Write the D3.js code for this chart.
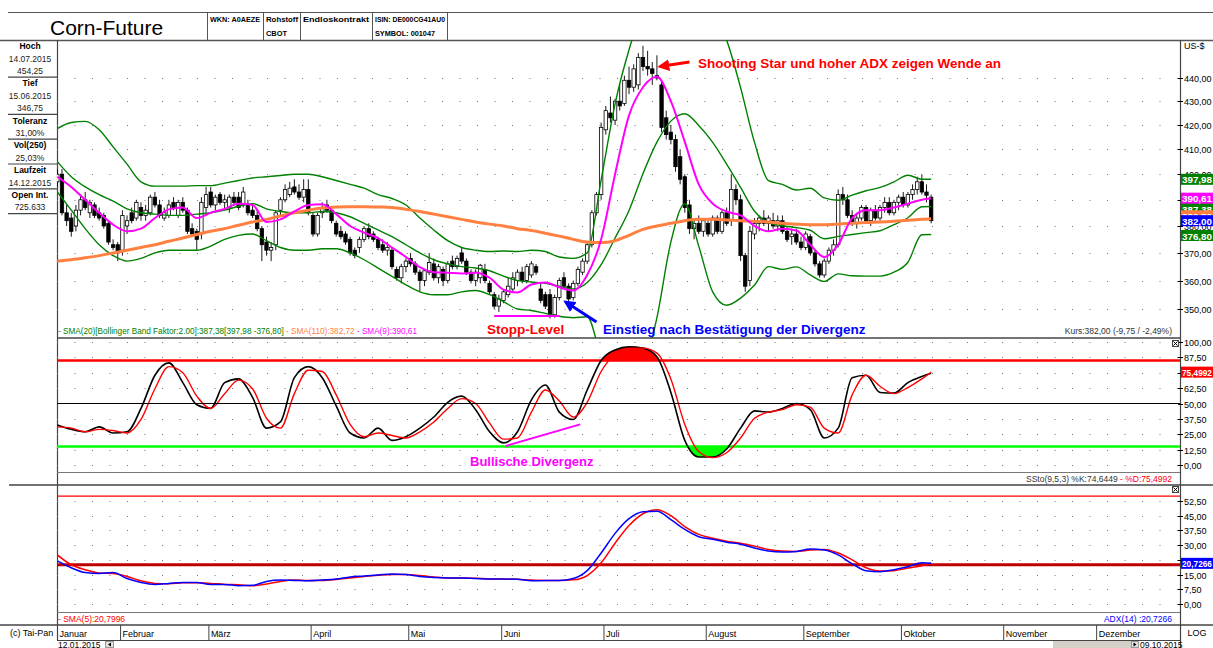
<!DOCTYPE html>
<meta charset="utf-8">
<title>Corn-Future</title>
<style>
body { margin: 0; background: #fff; }
svg { display: block; font-family: "Liberation Sans", Arial, sans-serif; }
</style>
<svg width="1213" height="648"></svg>
<script src="https://d3js.org/d3.v7.min.js"></script>
<script>
// ---- data ----
const holidays = ["2015-01-19","2015-02-16","2015-04-03","2015-05-25","2015-07-03","2015-09-07","2015-11-26","2015-12-25"];
const monthNames = ["Januar","Februar","März","April","Mai","Juni","Juli","August","September","Oktober","November","Dezember"];

// daily candles, 12.01.2015 .. 09.10.2015
const opens = [397,400,385,383,380,386,390,385,388,385,384,381,373,373,371,380,385,383,387,384,385,391,388,383,384,389,384,389,386,379,378,377,387,393,388,392,389,387,391,391,388,388,386,384,379,374,371,373,386,390,392,395,393,391,394,384,377,385,388,386,381,378,377,375,371,372,375,379,377,375,373,371,371,364,361,365,368,366,363,360,363,366,361,364,360,367,365,370,367,363,360,361,364,359,355,351,353,355,357,360,363,360,362,365,357,355,355,348,354,361,358,354,359,363,367,373,385,392,418,425,422,430,429,439,436,437,449,445,444,441,437,423,417,414,407,399,388,379,381,378,381,377,383,378,385,382,394,390,369,360,377,381,383,381,382,380,382,378,376,377,374,372,376,370,366,362,367,371,373,392,390,384,381,383,387,382,386,383,387,389,385,389,391,388,392,394,397,393,391];
const highs = [402,402,388,385,388,392,393,390,389,387,385,382,375,374,386,384,387,390,389,388,392,393,390,387,390,391,390,391,387,381,379,391,395,395,392,393,392,392,393,393,395,390,388,386,380,376,374,386,391,396,397,398,396,398,398,385,385,389,390,387,382,380,378,376,372,376,380,381,378,376,375,374,372,365,366,368,370,367,364,364,370,368,366,365,367,369,369,372,368,364,364,366,366,360,356,355,357,361,363,364,365,366,367,366,359,356,357,355,361,363,359,360,365,368,374,386,393,421,428,432,431,437,441,445,446,451,454.25,452,447,450,439,426,420,416,410,400,390,383,384,383,382,384,384,386,387,400,396,392,370,380,383,384,386,384,385,384,384,380,379,379,376,378,377,371,367,368,372,375,394,395,392,386,385,388,388,387,388,388,391,391,390,392,393,393,396,399,400,396,392];
const lows = [395,384,380,376,378,384,386,383,383,382,379,373,371,367,369,377,381,382,382,382,384,387,383,382,383,386,383,385,377,376,371,375,385,387,386,388,386,385,388,386,387,384,383,378,367,369,367,371,384,389,391,392,390,389,384,376,376,383,385,381,376,375,373,369,368,370,374,375,374,371,370,369,364,360,359,363,365,362,356,358,362,360,359,358,359,364,364,366,362,359,358,359,359,355,350,349,352,354,356,358,359,359,361,362,352,350,346.75,347,353,357,352,353,358,362,366,372,384,390,416,421,420,426,428,433,434,435,443,441,437,439,417,414,412,401,396,385,377,375,377,376,376,376,377,377,380,380,388,367,356,358,375,378,380,378,379,378,377,374,373,373,371,371,369,365,361,361,366,369,372,388,383,380,379,382,381,380,382,382,385,384,384,386,387,387,390,392,392,389,381];
const closes = [400,385,382,378,386,390,387,389,384,383,380,374,372,370,384,382,382,389,384,386,391,388,384,385,388,387,389,386,378,377,375,389,392,388,391,389,390,391,389,387,393,385,384,379,373,371,372,385,390,394,394.5,393,391,394,385,377,384,387,386,382,377,376,374,370,369,375,379,376,375,372,371,372,365,361,365,367,366,363,360,363.5,366.5,361,365,360,366,365,368,367,363,360,363,365.5,360,356,351,353.5,356,358,361,363,360,365,366,363,353,351,348,354,360,358,353.5,359,364,367,373,385,392,419,426,423,430,428,439,436,444,449,445,444,442,440,419,416,414,403,398,387,379,381,378,382,377,383,378,385,381,394,390,369,358,378,381,383,381,383,380,382,378,375,377,374,372,377,370,366,362,367,371,373,392,390,384,381,383,387,382,386,383,387,389,385,389,391,388,392,394,397,393,391.75,382];

// indicator lines, read every third trading day
const sampleDays = [0,3,6,9,12,15,18,21,24,27,30,33,36,39,42,45,48,51,54,57,60,63,66,69,72,75,78,81,84,87,90,93,96,99,102,105,108,111,114,117,120,123,126,129,132,135,138,141,144,147,150,153,156,159,162,165,168,171,174,177,180,183,186,188];
const bbUpper = [418.5,421,421.5,418,411,404,397,395.3,395.3,395.3,395.5,395.5,396.5,397.5,398.5,399,399.5,400,400,399,397.5,396,394.5,392,390.5,388,383,378.5,374.5,372,371,370.5,370.7,370.5,371,370.5,368.5,368,370,397.8,428.9,452.5,471,478.7,469,461,467,469.6,456.8,435.8,412.8,397.5,396,393.8,394.5,390.7,389.8,391.8,393.5,394.8,397,399.6,398,397.98];
const bbMid = [405,399,395,392,389.5,386.5,385,384.5,384,384,384.5,385,386,387.5,388.5,386.5,385.5,385,385,385.5,385,383.5,381,378.5,376,373,370,367.5,366,365,364.5,363.5,361.6,360,359.5,359,358,357,359.3,365.7,375.5,385.9,400.2,412.9,421.6,424.7,419.8,412.8,404,394.8,385.6,381.3,380.1,379.4,378.4,375.2,376.1,376.8,377.5,378.2,380.5,383.1,387.3,387.38];
const bbLower = [393,386,379,373,369,367,368,370,371,371,371,372.5,375,376.5,377,374.5,372,371,371,371.5,371.5,370,367.5,364.5,361.5,358.5,356,355,355,356,356.5,355,352.6,350,349.5,348.5,347.5,347,347.3,333.6,322,319,329,347,374,388.5,372.5,356,351.3,353.8,358.4,365,364,364.9,362,359.7,362.4,361.7,361.6,361.6,363,366.6,376.7,376.8];
const sma110 = [367,367.5,368.2,369,370,371,372,373,374.3,375.5,376.8,378,379,380.3,381.5,382.5,383.8,385,386,386.8,387.2,387.3,387.3,387.2,387,386.3,385.5,384.5,383.5,382.5,381.5,380.7,380,379,378.3,377.3,376.2,375,374,373.8,374.5,376.5,378.7,380,381,382,382.5,382.5,382.3,382,381.8,381.5,381,380.7,380.5,380.5,380.7,381,381.3,381.5,381.8,382.2,382.5,382.72];
const sma9 = [399,395,390,385,380.5,378,379,383,386.3,387,383,385,386.5,388.5,388,381.5,382.5,385.5,388,388.3,384.5,380,377.5,375.5,372,368.5,364.8,363,362.8,362.5,362.8,361,356.8,355.8,358.6,359.3,357.6,356.5,362,375,400,424,436,440.5,430,413,396,388.5,385.5,384,380,378,379,378.3,373,368.5,373,383,386,386,387,388.5,390,390.61];
const stochK = [32.5,29,27,31,26,27,46,73,83,67,49,46,67,70,55,30,35,71,80,71,48,26,22,30,20,23,30,39,51,56,45,27,18,27,53,65,43,37,61,85,93.5,96,95,88,59,20,6.5,6.5,13,30,44,43,46,50,45,22,30,71,73,59,58.5,67,72,74.64];
const stochD = [31,30,27,29,28,26,37,62,80,75,56,46,58,69,62,38,30,58,77,76,57,33,23,26,24,22,27,35,46,54,50,34,21,22,43,61,52,39,51,76,90,95,95,91,70,33,11,6,10,22,38,43,45,49,47,30,26,57,73,64,58,63,70,75.5];
const adx = [22,18.5,16,15.5,16,13,11,10,10.5,11,11,10,10,9.3,9.5,11.5,12.2,12,11.8,12.2,12.7,13.8,14.3,14.8,15.3,15,14,13.5,13.3,13.3,13,12.7,12.7,12.6,11.8,12,12,13,17,26,36,43.5,47,47.3,43,38,34.3,33,31.5,30.5,28.5,27,26.5,26.8,28,27.5,25,20.5,17,16.5,17.5,19,21,20.73];
const adxSma5 = [25,20,17.5,15.8,15.5,14,11.8,10.5,10.3,10.8,10.8,10.5,10,9.8,9.3,10.2,11.5,12.2,12,12,12.5,13.3,14,14.6,15,15,14.5,13.8,13.3,13.3,13.1,12.8,12.7,12.6,12.2,12,12,12.3,14.5,21,31,40,46,48,45,39.5,35.5,33.5,32,31,29.5,27.8,27,26.8,27.5,27.8,26,22.5,18.5,16.8,17,18.3,19.5,20.8];

const priceTicks = [350,360,370,380,390,400,410,420,430,440];
const stochTicks = [0,12.5,25,37.5,50,62.5,75,87.5,100];
const adxTicks = [0,7.5,15,22.5,30,37.5,45,52.5];
const infoLabels = ["Hoch","Tief","Toleranz","Vol(250)","Laufzeit","Open Int."];
const infoValues = [["14.07.2015","454,25"],["15.06.2015","346,75"],["31,00%"],["25,03%"],["14.12.2015"],["725.633"]];

// ---- layout ----
const L = 57, R = 1180;
const svg = d3.select("svg");
const fmt = v => d3.format(".2f")(v).replace(".", ",");
const iso = d3.timeFormat("%Y-%m-%d");

const days = [];
for (let d = new Date(2015, 0, 12); d <= new Date(2015, 11, 31); d.setDate(d.getDate() + 1)) {
  if (d.getDay() === 0 || d.getDay() === 6 || holidays.includes(iso(d))) continue;
  days.push(new Date(d));
}
const x = d3.scaleLinear().domain([0, days.length]).range([55, 55 + days.length * 4.648]);
const xc = i => x(i + 0.5);
const y = d3.scaleLog().domain([350, 440]).range([309, 78]);
const sy = d3.scaleLinear().domain([0, 100]).range([465, 342]);
const ay = d3.scaleLinear().domain([0, 52.5]).range([604, 501]);

const defs = svg.append("defs");
function clip(id, y0, y1) {
  defs.append("clipPath").attr("id", id).append("rect")
    .attr("x", L).attr("y", y0).attr("width", R - L).attr("height", y1 - y0);
}
clip("cMain", 40, 338); clip("cSto", 338, 472); clip("cAdx", 485, 613);
clip("cHi", 338, sy(85)); clip("cLo", sy(15), 472);
[["arRed","#ff0000"],["arBlue","#0000ff"]].forEach(([id, c]) => {
  defs.append("marker").attr("id", id).attr("viewBox", "0 0 10 10").attr("refX", 8).attr("refY", 5)
    .attr("markerWidth", 4).attr("markerHeight", 4).attr("orient", "auto")
    .append("path").attr("d", "M0,0L10,5L0,10z").attr("fill", c);
});

const hline = (x1, x2, yy, col, w) => svg.append("line").attr("x1", x1).attr("x2", x2)
  .attr("y1", yy).attr("y2", yy).attr("stroke", col).attr("stroke-width", w || 1);
const vline = (xx, y1, y2, col, w) => svg.append("line").attr("x1", xx).attr("x2", xx)
  .attr("y1", y1).attr("y2", y2).attr("stroke", col).attr("stroke-width", w || 1);
const txt = (g, xx, yy, s, size, opts = {}) => {
  const t = g.append("text").attr("x", xx).attr("y", yy)
    .attr("font-size", size).attr("fill", opts.fill || "#000")
    .attr("font-weight", opts.bold ? "bold" : null)
    .attr("text-anchor", opts.anchor || null).text(s);
  if (opts.len) t.attr("textLength", opts.len).attr("lengthAdjust", "spacingAndGlyphs");
  return t;
};

// header
hline(8, 1213, 12.5, "#555");
hline(0, 1213, 40.5, "#555", 1.5);
[207, 263, 300, 372, 447].forEach(xx => vline(xx + 0.5, 12, 40, "#555"));
txt(svg, 50, 35, "Corn-Future", 21);
txt(svg, 210, 22, "WKN: A0AEZE", 8, {bold: true, len: 50});
txt(svg, 266, 22, "Rohstoff", 8, {bold: true, len: 32});
txt(svg, 266, 36, "CBOT", 8, {bold: true, len: 21});
txt(svg, 303, 22, "Endloskontrakt", 8, {bold: true, len: 66});
txt(svg, 375, 22, "ISIN: DE000CG41AU0", 8, {bold: true, len: 70});
txt(svg, 375, 36, "SYMBOL: 001047", 8, {bold: true, len: 60});

// info panel
let yy = 40;
infoLabels.forEach((lab, k) => {
  txt(svg, 30, yy + 9.2, lab, 8.5, {bold: true, anchor: "middle"});
  yy += 12.4;
  infoValues[k].forEach(v => { txt(svg, 30, yy + 9.2, v, 8.5, {anchor: "middle", fill: "#222"}); yy += 12.4; });
  hline(8, L, yy, "#444", 1.2);
});

// frames
vline(L + 0.5, 40, 640, "#444", 1.2);
vline(R + 0.5, 40, 648, "#444", 1.2);
hline(L, R, 338, "#444", 1.5);
hline(L, R, 472.5, "#777");
hline(9, 1213, 485, "#444", 1.5);
hline(L, R, 612.5, "#777");
hline(0, 1213, 625, "#444", 1.5);
hline(L, R, 640.5, "#444");

// dotted grid and right axes
function axisPanel(scale, ticks, skip) {
  ticks.forEach(t => {
    const ty = Math.round(scale(t)) + 0.5;
    if (!skip.includes(t)) hline(L, R, ty, "#777").attr("stroke-dasharray", "1,16.5");
    hline(R - 2, R + 3, ty, "#000");
    txt(svg, R + 4, ty + 3.5, fmt(t), 9);
  });
}
axisPanel(y, priceTicks, []);
axisPanel(sy, stochTicks, [50]);
axisPanel(ay, adxTicks, []);
txt(svg, R + 4, 49, "US-$", 9);

// ---- main panel ----
const gMain = svg.append("g").attr("clip-path", "url(#cMain)");
const line = yS => d3.line().x((v, k) => xc(sampleDays[k])).y(v => yS(v)).curve(d3.curveMonotoneX);
const candles = gMain.append("g").selectAll("g").data(closes.map((c, i) => ({i, o: opens[i], h: highs[i], l: lows[i], c}))).join("g");
candles.append("line").attr("x1", d => xc(d.i)).attr("x2", d => xc(d.i))
  .attr("y1", d => y(d.h)).attr("y2", d => y(d.l)).attr("stroke", "#000").attr("stroke-width", 0.9);
candles.append("rect").attr("x", d => xc(d.i) - 1.7).attr("width", 3.4)
  .attr("y", d => y(Math.max(d.o, d.c))).attr("height", d => Math.max(1, Math.abs(y(d.o) - y(d.c))))
  .attr("fill", d => d.c >= d.o ? "#fff" : "#000").attr("stroke", "#000").attr("stroke-width", 0.8);
[bbUpper, bbMid, bbLower].forEach(s => gMain.append("path").attr("d", line(y)(s))
  .attr("fill", "none").attr("stroke", "#008000").attr("stroke-width", 1.4));
gMain.append("path").attr("d", line(y)(sma110)).attr("fill", "none").attr("stroke", "#ff8040").attr("stroke-width", 3);
gMain.append("path").attr("d", line(y)(sma9)).attr("fill", "none").attr("stroke", "#ff00ff").attr("stroke-width", 2);

// annotations
gMain.append("line").attr("x1", xc(94)).attr("x2", xc(108)).attr("y1", y(347.6)).attr("y2", y(347.6))
  .attr("stroke", "#ff00ff").attr("stroke-width", 2);
svg.append("line").attr("x1", xc(136)).attr("y1", y(447)).attr("x2", xc(129.6)).attr("y2", y(445))
  .attr("stroke", "#ff0000").attr("stroke-width", 3).attr("marker-end", "url(#arRed)");
svg.append("line").attr("x1", xc(116)).attr("y1", y(345.5)).attr("x2", xc(109.3)).attr("y2", y(352.5))
  .attr("stroke", "#0000ff").attr("stroke-width", 3).attr("marker-end", "url(#arBlue)");
txt(svg, 698, 68, "Shooting Star und hoher ADX zeigen Wende an", 13.5, {bold: true, fill: "#ff0000"});
txt(svg, 487, 334, "Stopp-Level", 13.5, {bold: true, fill: "#ff0000"});
txt(svg, 603, 334, "Einstieg nach Bestätigung der Divergenz", 13.5, {bold: true, fill: "#0000ff"});

const leg = svg.append("text").attr("x", 58).attr("y", 334).attr("font-size", 8.2);
leg.append("tspan").attr("fill", "#008000").text("- SMA(20)[Bollinger Band Faktor:2.00]:387,38[397,98 -376,80] ");
leg.append("tspan").attr("fill", "#ff8040").text("- SMA(110):382,72 ");
leg.append("tspan").attr("fill", "#ff00ff").text("- SMA(9):390,61");
txt(svg, 1172, 334, "Kurs:382,00 (-9,75 / -2,49%)", 8.5, {anchor: "end", fill: "#333"});

// last value boxes
function valueBox(v, scale, label, bg, dy) {
  const cy = scale(v) + (dy || 0);
  svg.append("rect").attr("x", R + 1).attr("y", cy - 5.5).attr("width", 34).attr("height", 11).attr("fill", bg);
  txt(svg, R + 2, cy + 4, label, 9, {bold: true, fill: "#fff", len: 30});
}
valueBox(397.98, y, "397,98", "#008000");
valueBox(387.38, y, "387,38", "#008000", 2);
valueBox(390.61, y, "390,61", "#ff00ff");
valueBox(382.72, y, "382,72", "#ff8040", -3);
valueBox(382.00, y, "382,00", "#0000ff");
valueBox(376.80, y, "376,80", "#008000", 1);

// ---- stochastic ----
const gSto = svg.append("g").attr("clip-path", "url(#cSto)");
const areaK = base => d3.area().x((v, k) => xc(sampleDays[k])).y0(sy(base)).y1(v => sy(v)).curve(d3.curveMonotoneX);
gSto.append("path").attr("clip-path", "url(#cHi)").attr("d", areaK(85)(stochK)).attr("fill", "#ff0000");
gSto.append("path").attr("clip-path", "url(#cLo)").attr("d", areaK(15)(stochK)).attr("fill", "#00ff00");
hline(L, R, sy(50), "#000");
gSto.append("line").attr("x1", L).attr("x2", R).attr("y1", sy(85)).attr("y2", sy(85)).attr("stroke", "#ff0000").attr("stroke-width", 2.5);
gSto.append("line").attr("x1", L).attr("x2", R).attr("y1", sy(15)).attr("y2", sy(15)).attr("stroke", "#00ff00").attr("stroke-width", 2.5);
gSto.append("path").attr("d", line(sy)(stochK)).attr("fill", "none").attr("stroke", "#000").attr("stroke-width", 1.6);
gSto.append("path").attr("d", line(sy)(stochD)).attr("fill", "none").attr("stroke", "#ff0000").attr("stroke-width", 1.4);
gSto.append("line").attr("x1", xc(96.5)).attr("y1", sy(15.5)).attr("x2", xc(112.5)).attr("y2", sy(33))
  .attr("stroke", "#ff00ff").attr("stroke-width", 2);
txt(svg, 470, 466, "Bullische Divergenz", 13, {bold: true, fill: "#ff00ff"});
const sleg = svg.append("text").attr("x", 1172).attr("y", 482).attr("font-size", 8.5).attr("text-anchor", "end");
sleg.append("tspan").attr("fill", "#333").text("SSto(9,5,3) %K:74,6449 ");
sleg.append("tspan").attr("fill", "#ff0000").text("- %D:75,4992");
valueBox(75.4992, sy, "75,4992", "#ff0000");

// ---- ADX ----
const gAdx = svg.append("g").attr("clip-path", "url(#cAdx)");
gAdx.append("line").attr("x1", L).attr("x2", R).attr("y1", ay(55)).attr("y2", ay(55)).attr("stroke", "#ff0000").attr("stroke-width", 1.2);
gAdx.append("line").attr("x1", L).attr("x2", R).attr("y1", ay(20)).attr("y2", ay(20)).attr("stroke", "#c00000").attr("stroke-width", 3);
gAdx.append("path").attr("d", line(ay)(adxSma5)).attr("fill", "none").attr("stroke", "#ff0000").attr("stroke-width", 1.5);
gAdx.append("path").attr("d", line(ay)(adx)).attr("fill", "none").attr("stroke", "#0000ff").attr("stroke-width", 1.5);
txt(svg, 58, 622, "- SMA(5):20,7996", 8.5, {fill: "#ff0000"});
txt(svg, 1172, 622, "ADX(14) :20,7266", 8.5, {anchor: "end", fill: "#0000ff"});
valueBox(20.7266, ay, "20,7266", "#0000ff");

// close boxes
[340, 486].forEach(by => {
  svg.append("rect").attr("x", 1172.5).attr("y", by + 0.5).attr("width", 6).attr("height", 6).attr("fill", "#fff").attr("stroke", "#444");
  svg.append("path").attr("d", `M1173.5,${by + 1.5}l4,4m0,-4l-4,4`).attr("stroke", "#000");
});

// ---- month row ----
txt(svg, 10, 636, "(c) Tai-Pan", 9);
monthNames.forEach((m, k) => {
  const idx = days.findIndex(d => d.getMonth() === k);
  const mx = Math.max(L, x(idx));
  if (mx >= R) return;
  vline(mx + 0.5, 625, 640, "#444");
  txt(svg, mx + 2.5, 637, m, 9);
});
txt(svg, 1197, 636, "LOG", 9, {anchor: "middle"});

// bottom row
txt(svg, 58, 647.5, d3.timeFormat("%d.%m.%Y")(days[0]), 8.5);
svg.append("rect").attr("x", 105.5).attr("y", 641.5).attr("width", 8).attr("height", 6).attr("fill", "#e0e0e0").attr("stroke", "#999");
svg.append("path").attr("d", "M111,642.5l-3,2l3,2z").attr("fill", "#000");
svg.append("rect").attr("x", 1053).attr("y", 641).attr("width", 78).attr("height", 7).attr("fill", "#d4d0c8");
svg.append("rect").attr("x", 1131.5).attr("y", 641.5).attr("width", 7).attr("height", 6).attr("fill", "#e0e0e0").attr("stroke", "#999");
svg.append("path").attr("d", "M1133.5,642.5l3,2l-3,2z").attr("fill", "#000");
txt(svg, 1140, 647.5, d3.timeFormat("%d.%m.%Y")(days[closes.length - 1]), 8.5);
</script>
